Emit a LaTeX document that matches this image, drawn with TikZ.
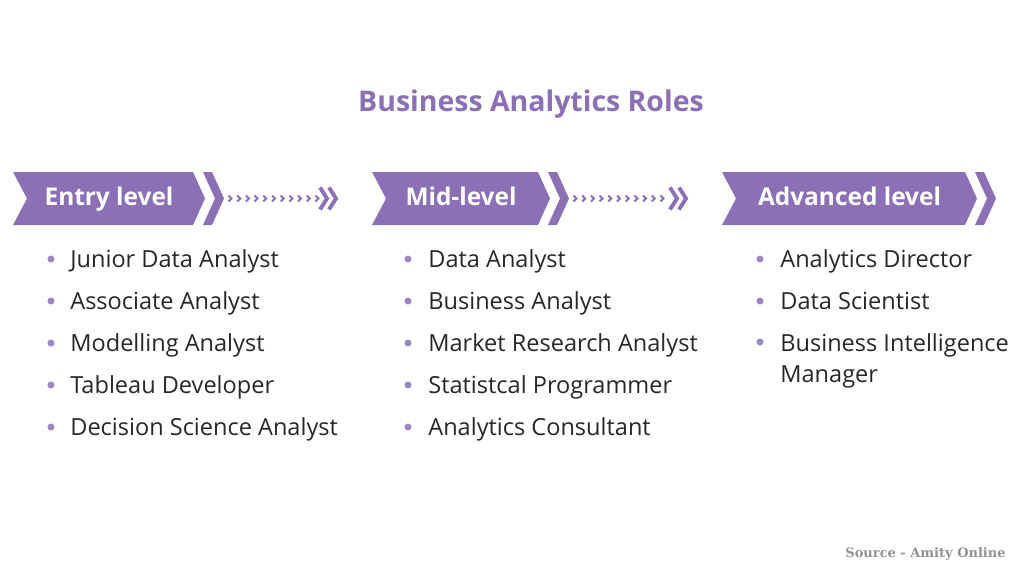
\documentclass[tikz,border=0pt]{standalone}
\usepackage{fontspec}
\setmainfont{Open Sans}
\newfontfamily\sourcefont{DejaVu Serif}
\usetikzlibrary{decorations.markings}
\definecolor{roles}{RGB}{139,112,182}
\definecolor{bullet}{RGB}{155,135,195}
\definecolor{ink}{RGB}{40,40,40}
\definecolor{note}{RGB}{145,145,145}

\begin{document}
\begin{tikzpicture}[x=0.02cm,y=-0.02cm,
  level/.style={anchor=base,text=white,inner sep=0pt,font=\fontsize{13.9}{16}\selectfont\bfseries},
  item/.style={anchor=base west,inner sep=0pt,text=ink,align=left,
    font=\fontsize{13.4}{17.6}\selectfont},
  tick/.style={draw=roles,line width=1.1pt},
  bigtick/.style={draw=roles,line width=2.2pt},
  dots/.style={decorate,decoration={markings,
    mark=between positions 0 and 1 step 0.174cm with {\draw[tick] (-1.5,-3) -- (1.5,0) -- (-1.5,3);}}}]
   \fill[white] (0,0) rectangle (1024,569);
   \useasboundingbox (0,0) rectangle (1024,569);
   \node[anchor=base,text=roles,inner sep=0pt,font=\fontsize{16.2}{19}\selectfont\bfseries] (title) at (531,111) {Business Analytics Roles};
   \foreach \xa/\xb/\nm/\txt in {13/193/entry/Entry level,372/538/mid/Mid-level,722/965/adv/Advanced level}{
     \fill[roles] (\xa,172) -- (\xb,172) -- (\xb+12,198.5) -- (\xb,225) -- (\xa,225) -- (\xa+14,198.5) -- cycle;
     \fill[roles] (\xb+10,172) -- (\xb+19,172) -- (\xb+31,198.5) -- (\xb+19,225) -- (\xb+10,225) -- (\xb+22,198.5) -- cycle;
     \node[level] (\nm) at ({(\xa+\xb)/2+6},205) {\txt};
     \coordinate (\nm-in) at (\xa,198.5);
     \coordinate (\nm-out) at (\xb+37,198.5);
   }
   \foreach \from/\to in {entry/mid,mid/adv}{
     \path[dots] (\from-out) -- ([xshift=-1.1cm]\to-in);
     \draw[bigtick,shift={(\to-in)}] (-52,-11) -- (-45,0) -- (-52,11) (-43,-11) -- (-36,0) -- (-43,11);
   }
   \foreach \txt [count=\i] in {Junior Data Analyst,Associate Analyst,Modelling Analyst,Tableau Developer,Decision Science Analyst}{
     \node[item] (e\i) at (70,225+42*\i) {\txt};
     \fill[bullet] (e\i.base west) ++(-19,-8) circle (3.5);
   }
   \foreach \txt [count=\i] in {Data Analyst,Business Analyst,Market Research Analyst,Statistcal Programmer,Analytics Consultant}{
     \node[item] (m\i) at (428,225+42*\i) {\txt};
     \fill[bullet] (m\i.base west) ++(-20,-8) circle (3.5);
   }
   \foreach \txt [count=\i] in {Analytics Director,Data Scientist}{
     \node[item] (a\i) at (780,225+42*\i) {\txt};
     \fill[bullet] (a\i.base west) ++(-20,-8) circle (3.5);
   }
   \node[item] (a3) at (780,382) {Business Intelligence\\Manager};
   \fill[bullet] (a3.base west) ++(-20,-40) circle (3.5);
   \node[anchor=base east,inner sep=0pt,text=note,font=\sourcefont\bfseries\fontsize{7.4}{9}\selectfont] (source) at (1006,557) {Source - Amity Online};
\end{tikzpicture}
\end{document}
